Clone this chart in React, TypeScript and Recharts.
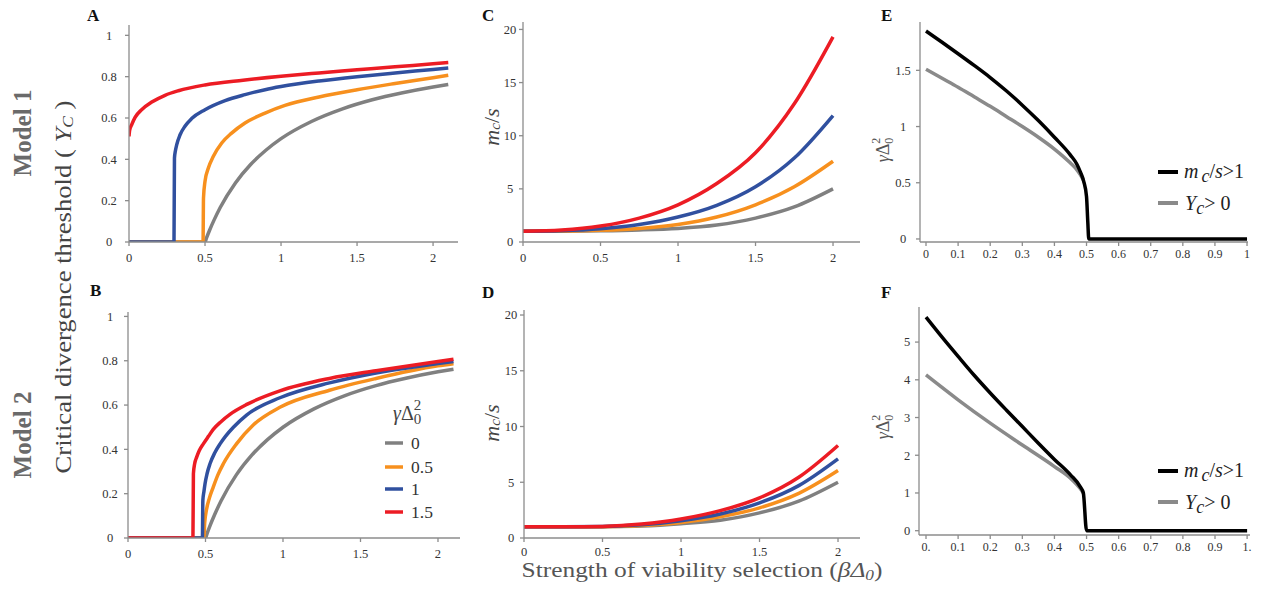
import React from 'react';
import { LineChart, Line, XAxis, YAxis } from 'recharts';

const SERIF = '"Liberation Serif", "Times New Roman", serif';
const RED = '#ec1c24';
const BLUE = '#30509f';
const ORANGE = '#f7901e';
const GRAY = '#808080';
const BLACK = '#000000';
const LGRAY = '#8a8a8a';

// ---------- Panel A (Model 1, Yc) ----------
const aGrayX = [0, 0.5, 0.51, 0.53, 0.56, 0.6, 0.7, 0.8, 0.9, 1.0, 1.2, 1.4, 1.6, 1.8, 2.0, 2.1];
const aGrayY = [0, 0, 0.02, 0.057, 0.107, 0.167, 0.286, 0.375, 0.444, 0.5, 0.583, 0.643, 0.688, 0.722, 0.75, 0.762];
const aOrangeX = [0, 0.487, 0.49, 0.5, 0.522, 0.555, 0.61, 0.675, 0.763, 0.895, 1.026, 1.25, 1.5, 1.75, 2.0, 2.1];
const aOrangeY = [0, 0, 0.213, 0.294, 0.358, 0.415, 0.479, 0.527, 0.576, 0.624, 0.661, 0.702, 0.737, 0.767, 0.795, 0.807];
const aBlueX = [0, 0.296, 0.299, 0.305, 0.314, 0.336, 0.368, 0.412, 0.5, 0.632, 0.763, 0.895, 1.0, 1.25, 1.5, 1.75, 2.0, 2.1];
const aBlueY = [0, 0, 0.406, 0.44, 0.471, 0.519, 0.56, 0.597, 0.64, 0.684, 0.713, 0.737, 0.752, 0.779, 0.8, 0.818, 0.835, 0.842];
const aRedX = [0, 0.004, 0.018, 0.04, 0.083, 0.15, 0.237, 0.325, 0.5, 0.75, 1.0, 1.25, 1.5, 1.75, 2.0, 2.1];
const aRedY = [0.511, 0.54, 0.568, 0.603, 0.64, 0.677, 0.71, 0.732, 0.76, 0.783, 0.802, 0.818, 0.833, 0.848, 0.862, 0.868];

// ---------- Panel B (Model 2, Yc) ----------
const bGrayX = [0, 0.5, 0.51, 0.53, 0.56, 0.6, 0.7, 0.8, 0.9, 1.0, 1.2, 1.4, 1.6, 1.8, 2.0, 2.1];
const bGrayY = [0, 0, 0.02, 0.057, 0.107, 0.167, 0.286, 0.375, 0.444, 0.5, 0.583, 0.643, 0.688, 0.722, 0.75, 0.762];
const bOrangeX = [0, 0.489, 0.495, 0.506, 0.525, 0.55, 0.58, 0.615, 0.7, 0.808, 0.98, 1.3, 1.6, 2.0, 2.1];
const bOrangeY = [0, 0, 0.07, 0.126, 0.18, 0.23, 0.285, 0.335, 0.425, 0.51, 0.59, 0.667, 0.72, 0.777, 0.787];
const bBlueX = [0, 0.48, 0.483, 0.49, 0.497, 0.51, 0.529, 0.56, 0.594, 0.63, 0.68, 0.765, 0.98, 1.3, 1.6, 2.0, 2.1];
const bBlueY = [0, 0, 0.17, 0.21, 0.245, 0.29, 0.335, 0.385, 0.425, 0.46, 0.5, 0.555, 0.633, 0.7, 0.745, 0.787, 0.797];
const bRedX = [0, 0.419, 0.422, 0.43, 0.443, 0.46, 0.486, 0.52, 0.55, 0.6, 0.66, 0.77, 0.98, 1.3, 1.6, 2.0, 2.1];
const bRedY = [0, 0, 0.29, 0.335, 0.365, 0.395, 0.425, 0.46, 0.49, 0.525, 0.559, 0.604, 0.664, 0.72, 0.755, 0.797, 0.807];

// ---------- Panels C, D (mc/s) ----------
const cdX = [0, 0.25, 0.5, 0.75, 1.0, 1.25, 1.5, 1.75, 2.0];
const cGrayY = [1, 1.01, 1.05, 1.13, 1.28, 1.6, 2.25, 3.3, 5.0];
const cOrangeY = [1, 1.02, 1.1, 1.28, 1.65, 2.35, 3.5, 5.2, 7.6];
const cBlueY = [1, 1.06, 1.25, 1.65, 2.35, 3.45, 5.2, 7.9, 11.9];
const cRedY = [1, 1.12, 1.5, 2.25, 3.5, 5.5, 8.4, 13.0, 19.3];
const dGrayY = [1, 1.0, 1.02, 1.08, 1.28, 1.6, 2.25, 3.3, 5.0];
const dOrangeY = [1, 1.0, 1.02, 1.12, 1.4, 1.9, 2.7, 4.0, 6.05];
const dBlueY = [1, 1.0, 1.03, 1.18, 1.55, 2.15, 3.15, 4.7, 7.1];
const dRedY = [1, 1.0, 1.04, 1.25, 1.7, 2.45, 3.6, 5.45, 8.3];

// ---------- Panel E (Model 1 boundaries) ----------
const eBlackX = [0, 0.05, 0.1, 0.15, 0.2, 0.25, 0.3, 0.35, 0.4, 0.45, 0.47, 0.481, 0.491, 0.5, 0.504, 0.507, 1.0];
const eBlackY = [1.85, 1.75, 1.648, 1.544, 1.436, 1.318, 1.19, 1.053, 0.905, 0.746, 0.665, 0.595, 0.515, 0.376, 0.15, 0, 0];
const eGrayX = [0, 0.05, 0.1, 0.15, 0.2, 0.25, 0.3, 0.35, 0.4, 0.45, 0.47, 0.48, 0.49];
const eGrayY = [1.51, 1.43, 1.35, 1.265, 1.18, 1.09, 1.0, 0.905, 0.8, 0.675, 0.615, 0.575, 0.525];

// ---------- Panel F (Model 2 boundaries) ----------
const fBlackX = [0, 0.05, 0.1, 0.15, 0.2, 0.25, 0.3, 0.35, 0.4, 0.45, 0.48, 0.49, 0.5, 1.0];
const fBlackY = [5.66, 5.13, 4.62, 4.12, 3.65, 3.2, 2.76, 2.32, 1.89, 1.48, 1.17, 1.0, 0, 0];
const fGrayX = [0, 0.1, 0.2, 0.3, 0.4, 0.45, 0.48, 0.49];
const fGrayY = [4.13, 3.47, 2.85, 2.27, 1.7, 1.39, 1.12, 1.0];

// ---------- ticks ----------
const selTicks = [0, 0.5, 1, 1.5, 2];
const ycTicks = [0, 0.2, 0.4, 0.6, 0.8, 1];
const mcTicks = [0, 5, 10, 15, 20];
const eYTicks = [0, 0.5, 1, 1.5];
const fYTicks = [0, 1, 2, 3, 4, 5];
const bndTicks = [0, 0.1, 0.2, 0.3, 0.4, 0.5, 0.6, 0.7, 0.8, 0.9, 1];
const eXLabels = ['0', '0.1', '0.2', '0.3', '0.4', '0.5', '0.6', '0.7', '0.8', '0.9', '1'];
const fXLabels = ['0.', '0.1', '0.2', '0.3', '0.4', '0.5', '0.6', '0.7', '0.8', '0.9', '1.'];
const legendLabels = ['0', '0.5', '1', '1.5'];

const zip = (xs: number[], ys: number[]) => xs.map((x, i) => ({ x, y: ys[i] }));

type Series = { data: { x: number; y: number }[]; color: string; width?: number };
type PanelProps = {
  rect: { x: number; y: number; w: number; h: number };
  xDomain: [number, number];
  yDomain: [number, number];
  xTicks: number[];
  yTicks: number[];
  xLabels?: string[];
  yOff: number;
  xMargin: number;
  xFont?: number;
  series: Series[];
};

const ML = 50;
const MT = 10;
const MR = 12;
const XH = 34;
const AXIS = '#8c8c8c';

function Panel(p: PanelProps) {
  const W = p.rect.w + ML + MR;
  const H = p.rect.h + MT + XH;
  const yTick = (props: any) => (
    <text
      x={ML + p.yOff}
      y={props.y}
      dy="0.35em"
      textAnchor="middle"
      fontSize={12.5}
      fill="#333"
      fontFamily={SERIF}
    >
      {String(props.payload.value)}
    </text>
  );
  return (
    <div style={{ position: 'absolute', left: p.rect.x - ML, top: p.rect.y - MT }}>
      <LineChart width={W} height={H} margin={{ top: MT, right: MR, left: 0, bottom: 0 }}>
        <XAxis
          type="number"
          dataKey="x"
          domain={p.xDomain}
          ticks={p.xTicks}
          allowDataOverflow
          height={XH}
          stroke={AXIS}
          strokeWidth={1.3}
          tickSize={4}
          tickMargin={p.xMargin}
          interval={0}
          tick={{ fontSize: p.xFont ?? 12.5, fill: '#333', fontFamily: SERIF }}
          tickFormatter={(v: number) => {
            if (p.xLabels) {
              const i = p.xTicks.indexOf(v);
              return i >= 0 ? p.xLabels[i] : String(v);
            }
            return String(v);
          }}
        />
        <YAxis
          type="number"
          domain={p.yDomain}
          ticks={p.yTicks}
          allowDataOverflow
          width={ML}
          stroke={AXIS}
          strokeWidth={1.3}
          tickSize={4}
          interval={0}
          tick={yTick}
        />
        {p.series.map((s, i) => (
          <Line
            key={i}
            data={s.data}
            dataKey="y"
            type="monotone"
            stroke={s.color}
            strokeWidth={s.width ?? 3.5}
            dot={false}
            activeDot={false}
            isAnimationActive={false}
          />
        ))}
      </LineChart>
    </div>
  );
}

function GammaDelta({ size, sub }: { size: number; sub: number }) {
  return (
    <>
      <tspan fontStyle="italic">γ</tspan>
      <tspan>Δ</tspan>
      <tspan fontSize={sub} dy={size * 0.22}>0</tspan>
      <tspan fontSize={sub} dx={-sub * 0.5} dy={-size * 0.72}>2</tspan>
    </>
  );
}

export default function App() {
  return (
    <div style={{ position: 'absolute', left: 0, top: 0, width: 1277, height: 600, background: '#fff' }}>
      <Panel
        rect={{ x: 129, y: 25, w: 329, h: 217 }}
        xDomain={[0, 2.164]}
        yDomain={[0, 1.05]}
        xTicks={selTicks}
        yTicks={ycTicks}
        yOff={-20}
        xMargin={7}
        series={[
          { data: zip(aGrayX, aGrayY), color: GRAY },
          { data: zip(aOrangeX, aOrangeY), color: ORANGE },
          { data: zip(aBlueX, aBlueY), color: BLUE },
          { data: zip(aRedX, aRedY), color: RED },
        ]}
      />
      <Panel
        rect={{ x: 128, y: 312, w: 332, h: 226 }}
        xDomain={[0, 2.142]}
        yDomain={[0, 1.02]}
        xTicks={selTicks}
        yTicks={ycTicks}
        yOff={-18}
        xMargin={7}
        series={[
          { data: zip(bGrayX, bGrayY), color: GRAY },
          { data: zip(bOrangeX, bOrangeY), color: ORANGE },
          { data: zip(bBlueX, bBlueY), color: BLUE },
          { data: zip(bRedX, bRedY), color: RED },
        ]}
      />
      <Panel
        rect={{ x: 523, y: 22, w: 337, h: 220 }}
        xDomain={[0, 2.174]}
        yDomain={[0, 20.7]}
        xTicks={selTicks}
        yTicks={mcTicks}
        yOff={-13}
        xMargin={7}
        series={[
          { data: zip(cdX, cGrayY), color: GRAY },
          { data: zip(cdX, cOrangeY), color: ORANGE },
          { data: zip(cdX, cBlueY), color: BLUE },
          { data: zip(cdX, cRedY), color: RED },
        ]}
      />
      <Panel
        rect={{ x: 524, y: 310, w: 336, h: 228 }}
        xDomain={[0, 2.14]}
        yDomain={[0, 20.45]}
        xTicks={selTicks}
        yTicks={mcTicks}
        yOff={-13}
        xMargin={5}
        series={[
          { data: zip(cdX, dGrayY), color: GRAY },
          { data: zip(cdX, dOrangeY), color: ORANGE },
          { data: zip(cdX, dBlueY), color: BLUE },
          { data: zip(cdX, dRedY), color: RED },
        ]}
      />
      <Panel
        rect={{ x: 920, y: 22, w: 328, h: 220 }}
        xDomain={[-0.0187, 1.003]}
        yDomain={[-0.027, 1.93]}
        xTicks={bndTicks}
        xLabels={eXLabels}
        yTicks={eYTicks}
        yOff={-17}
        xMargin={3}
        xFont={12}
        series={[
          { data: zip(eGrayX, eGrayY), color: LGRAY },
          { data: zip(eBlackX, eBlackY), color: BLACK },
        ]}
      />
      <Panel
        rect={{ x: 919, y: 307, w: 331, h: 228 }}
        xDomain={[-0.0218, 1.009]}
        yDomain={[-0.114, 5.93]}
        xTicks={bndTicks}
        xLabels={fXLabels}
        yTicks={fYTicks}
        yOff={-12}
        xMargin={3}
        xFont={12}
        series={[
          { data: zip(fGrayX, fGrayY), color: LGRAY },
          { data: zip(fBlackX, fBlackY), color: BLACK },
        ]}
      />

      <svg
        width={1277}
        height={600}
        style={{ position: 'absolute', left: 0, top: 0, pointerEvents: 'none' }}
        fontFamily={SERIF}
      >
        {/* panel letters */}
        <g fontWeight="bold" fontSize={17} fill="#111">
          <text x={87} y={21}>A</text>
          <text x={90} y={296}>B</text>
          <text x={482} y={21}>C</text>
          <text x={482} y={298}>D</text>
          <text x={881} y={21}>E</text>
          <text x={881} y={298}>F</text>
        </g>

        {/* Model labels */}
        <g fontWeight="bold" fontSize={25} fill="#6a6a6a">
          <text transform="translate(22,133) rotate(-90)" textAnchor="middle" dominantBaseline="central">Model 1</text>
          <text transform="translate(22,435) rotate(-90)" textAnchor="middle" dominantBaseline="central">Model 2</text>
        </g>

        {/* shared y label for A/B */}
        <text
          transform="translate(63,287) rotate(-90)"
          textAnchor="middle"
          dominantBaseline="central"
          fontSize={23}
          fill="#444"
          textLength={373}
          lengthAdjust="spacingAndGlyphs"
        >
          {'Critical divergence threshold ( '}
          <tspan fontStyle="italic">Y</tspan>
          <tspan fontStyle="italic" fontSize={15} dy={5}>C</tspan>
          <tspan dy={-5}>{' )'}</tspan>
        </text>

        {/* m_c/s labels */}
        {[127, 423].map((cy, i) => (
          <text
            key={i}
            transform={`translate(491,${cy}) rotate(-90)`}
            textAnchor="middle"
            dominantBaseline="central"
            fontSize={22}
            fill="#444"
          >
            <tspan fontStyle="italic">m</tspan>
            <tspan fontStyle="italic" fontSize={15} dy={4}>c</tspan>
            <tspan dy={-4}>/</tspan>
            <tspan fontStyle="italic">s</tspan>
          </text>
        ))}

        {/* gammaDelta labels E/F */}
        {[150, 427].map((cy, i) => (
          <text
            key={i}
            transform={`translate(889,${cy}) rotate(-90)`}
            textAnchor="middle"
            fontSize={18}
            fill="#555"
          >
            <GammaDelta size={18} sub={12} />
          </text>
        ))}

        {/* legend in B */}
        <text x={393} y={420} fontSize={20} fill="#444">
          <GammaDelta size={20} sub={15} />
        </text>
        {[ [GRAY, 443], [ORANGE, 467], [BLUE, 489], [RED, 512] ].map(([c, y], i) => (
          <g key={i}>
            <line x1={385} x2={403} y1={y as number} y2={y as number} stroke={c as string} strokeWidth={3.5} />
            <text x={411} y={(y as number) + 6} fontSize={17.5} fill="#333">{legendLabels[i]}</text>
          </g>
        ))}

        {/* legends in E and F */}
        {[172, 471].map((y0, i) => (
          <g key={i} fontSize={20} fill="#222">
            <line x1={1158} x2={1178} y1={y0} y2={y0} stroke={BLACK} strokeWidth={4} />
            <text x={1184} y={y0 + 6}>
              <tspan fontStyle="italic">m</tspan>
              <tspan fontStyle="italic" fontSize={18} dy={4} dx={3}>c</tspan>
              <tspan dy={-4}>/</tspan>
              <tspan fontStyle="italic">s</tspan>
              <tspan>&gt;1</tspan>
            </text>
            <line x1={1158} x2={1178} y1={y0 + 31} y2={y0 + 31} stroke={LGRAY} strokeWidth={4} />
            <text x={1185} y={y0 + 38}>
              <tspan fontStyle="italic">Y</tspan>
              <tspan fontStyle="italic" fontSize={18} dy={4}>c</tspan>
              <tspan dy={-4}>&gt; 0</tspan>
            </text>
          </g>
        ))}

        {/* bottom label */}
        <text
          x={702}
          y={577}
          textAnchor="middle"
          fontSize={22}
          fill="#555"
          textLength={361}
          lengthAdjust="spacingAndGlyphs"
        >
          {'Strength of viability selection ('}
          <tspan fontStyle="italic">β</tspan>
          <tspan fontStyle="italic">Δ</tspan>
          <tspan fontStyle="italic" fontSize={15} dy={3}>0</tspan>
          <tspan dy={-3}>)</tspan>
        </text>
      </svg>
    </div>
  );
}
